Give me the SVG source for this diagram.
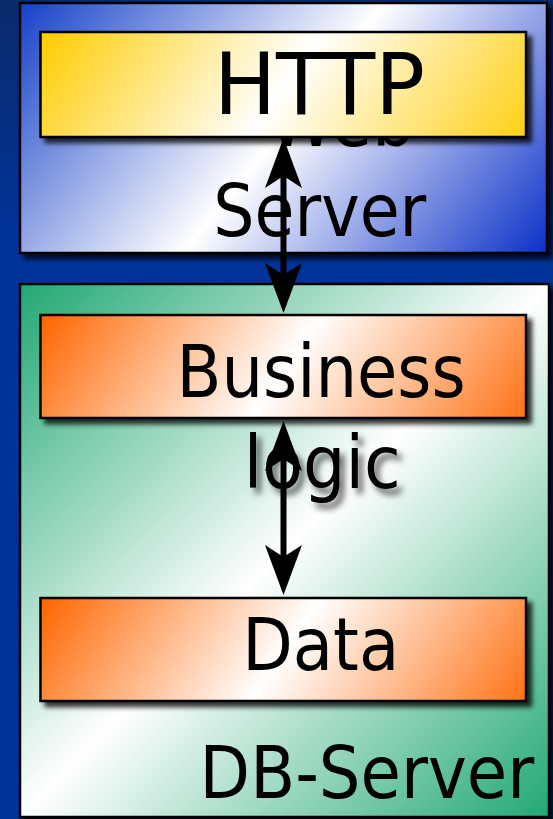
<svg xmlns="http://www.w3.org/2000/svg" width="553" height="819" viewBox="0 0 553 819">
  <defs>
    <linearGradient id="bg" x1="0" y1="0" x2="0" y2="1">
      <stop offset="0" stop-color="#0b2a6b"/>
      <stop offset="0.3" stop-color="#003399"/>
      <stop offset="1" stop-color="#003399"/>
    </linearGradient>
    <linearGradient id="gBlue" gradientUnits="userSpaceOnUse" x1="63" y1="-51" x2="505" y2="307">
      <stop offset="0" stop-color="#1540c8"/>
      <stop offset="0.5" stop-color="#ffffff"/>
      <stop offset="1" stop-color="#0a30c8"/>
    </linearGradient>
    <linearGradient id="gGreen" x1="0" y1="0" x2="1" y2="1">
      <stop offset="0" stop-color="#22a874"/>
      <stop offset="0.5" stop-color="#ffffff"/>
      <stop offset="1" stop-color="#22a874"/>
    </linearGradient>
    <linearGradient id="gYellow" gradientUnits="userSpaceOnUse" x1="94" y1="-44" x2="492" y2="223">
      <stop offset="0" stop-color="#ffcc00"/>
      <stop offset="0.48" stop-color="#ffffff"/>
      <stop offset="1" stop-color="#ffcc00"/>
    </linearGradient>
    <linearGradient id="gOrange1" gradientUnits="userSpaceOnUse" x1="94" y1="239" x2="492" y2="506">
      <stop offset="0" stop-color="#ff6600"/>
      <stop offset="0.48" stop-color="#ffffff"/>
      <stop offset="1" stop-color="#ff6600"/>
    </linearGradient>
    <linearGradient id="gOrange2" gradientUnits="userSpaceOnUse" x1="94" y1="522" x2="492" y2="789">
      <stop offset="0" stop-color="#ff6600"/>
      <stop offset="0.48" stop-color="#ffffff"/>
      <stop offset="1" stop-color="#ff6600"/>
    </linearGradient>
    <filter id="shadow" x="-5%" y="-5%" width="115%" height="120%">
      <feDropShadow dx="5" dy="5" stdDeviation="2.5" flood-color="#000" flood-opacity="0.8"/>
    </filter>
    <filter id="tshadow" x="-10%" y="-10%" width="130%" height="140%">
      <feDropShadow dx="5" dy="6" stdDeviation="3" flood-color="#000" flood-opacity="0.6"/>
    </filter>
    <marker id="head" markerUnits="userSpaceOnUse" viewBox="0 -19 50 38" markerWidth="50" markerHeight="38" refX="20" refY="0" orient="auto-start-reverse">
      <path d="M0,-18.5 L50,0 L0,18.5 L12,0 Z" fill="#000"/>
    </marker>
    <style>
      .box { stroke: #000; stroke-width: 2.5; filter: url(#shadow); }
      .t { font-family: "DejaVu Sans Condensed", "DejaVu Sans", sans-serif; font-stretch: condensed; font-size: 73px; fill: #000; }
      .conn { stroke: #000; stroke-width: 6; fill: none; marker-start: url(#head); marker-end: url(#head); }
    </style>
  </defs>

  <rect x="0" y="0" width="553" height="819" fill="url(#bg)"/>

  <g id="web-server">
    <rect class="box" x="20" y="3" width="527" height="250" fill="url(#gBlue)"/>
    <text class="t" x="268" y="146" textLength="147" lengthAdjust="spacingAndGlyphs">Web</text>
    <text class="t" x="213.3" y="236" textLength="213" lengthAdjust="spacingAndGlyphs">Server</text>
  </g>

  <g id="http">
    <rect class="box" x="40.5" y="32" width="485.5" height="105" fill="url(#gYellow)"/>
    <text class="t" x="214" y="114" font-size="85" textLength="211" lengthAdjust="spacingAndGlyphs" style="font-size:85px">HTTP</text>
  </g>

  <g id="db-server">
    <rect class="box" x="20" y="284" width="529" height="533" fill="url(#gGreen)"/>
    <text class="t" x="199.6" y="798" textLength="334.5" lengthAdjust="spacingAndGlyphs">DB-Server</text>
  </g>

  <g id="business-logic">
    <rect class="box" x="40.5" y="315" width="485.5" height="103" fill="url(#gOrange1)"/>
    <text class="t" x="176.6" y="397" textLength="289" lengthAdjust="spacingAndGlyphs">Business</text>
    <text class="t" x="243.7" y="488" textLength="157" lengthAdjust="spacingAndGlyphs" filter="url(#tshadow)">logic</text>
  </g>

  <g id="data">
    <rect class="box" x="40.5" y="598" width="485.5" height="103" fill="url(#gOrange2)"/>
    <text class="t" x="242.2" y="670" textLength="157" lengthAdjust="spacingAndGlyphs">Data</text>
  </g>

  <g id="connectors">
    <path class="conn" d="M283.5,168 L283.5,283"/>
    <path class="conn" d="M283.5,451 L283.5,565"/>
  </g>
</svg>
